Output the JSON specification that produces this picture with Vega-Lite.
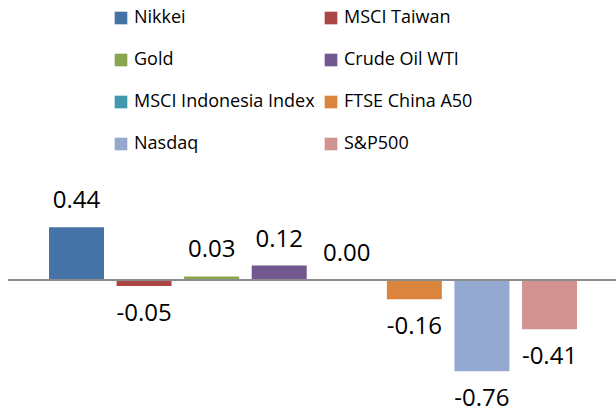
{
  "$schema": "https://vega.github.io/schema/vega-lite/v6.json",
  "width": 608,
  "height": 412,
  "padding": {"left": 8, "top": 0, "right": 0, "bottom": 0},
  "autosize": {"type": "none"},
  "config": {"view": {"stroke": null}, "font": "Open Sans"},
  "data": {"values": [
    {"series": "Nikkei", "value": 0.44, "label": "0.44"},
    {"series": "MSCI Taiwan", "value": -0.05, "label": "-0.05"},
    {"series": "Gold", "value": 0.03, "label": "0.03"},
    {"series": "Crude Oil WTI", "value": 0.12, "label": "0.12"},
    {"series": "MSCI Indonesia Index", "value": 0.0, "label": "0.00"},
    {"series": "FTSE China A50", "value": -0.16, "label": "-0.16"},
    {"series": "Nasdaq", "value": -0.76, "label": "-0.76"},
    {"series": "S&P500", "value": -0.41, "label": "-0.41"}
  ]},
  "encoding": {
    "x": {"field": "series", "type": "nominal", "axis": null,
      "sort": ["Nikkei", "MSCI Taiwan", "Gold", "Crude Oil WTI", "MSCI Indonesia Index", "FTSE China A50", "Nasdaq", "S&P500"],
      "scale": {"range": [41, 569], "paddingInner": 0.186, "paddingOuter": 0}},
    "y": {"field": "value", "type": "quantitative", "axis": null,
      "scale": {"domain": [-1.1, 2.3333], "nice": false, "zero": false}}
  },
  "layer": [
    {
      "mark": {"type": "bar"},
      "encoding": {
        "color": {"field": "series", "type": "nominal",
          "sort": ["Nikkei", "MSCI Taiwan", "Gold", "Crude Oil WTI", "MSCI Indonesia Index", "FTSE China A50", "Nasdaq", "S&P500"],
          "scale": {"domain": ["Nikkei", "MSCI Taiwan", "Gold", "Crude Oil WTI", "MSCI Indonesia Index", "FTSE China A50", "Nasdaq", "S&P500"],
            "range": ["#4572A7", "#AA4643", "#89A54E", "#71588F", "#4198AF", "#DB843D", "#93A9CF", "#D19392"]},
          "legend": {"orient": "none", "legendX": 104, "legendY": 9, "columns": 2, "direction": "horizontal", "title": null,
            "symbolType": "square", "symbolSize": 160, "symbolStrokeWidth": 0, "symbolOpacity": 1,
            "labelFont": "Open Sans", "labelFontSize": 18, "labelColor": "#000000", "labelOffset": 4,
            "labelLimit": 300, "rowPadding": 24, "columnPadding": 7, "padding": 0, "gridAlign": "all"}
        },
        "y2": {"datum": 0}
      }
    },
    {
      "mark": {"type": "rule", "color": "#8C8C8C", "strokeWidth": 2},
      "encoding": {"y": {"datum": 0}, "x": null}
    },
    {
      "transform": [{"filter": "datum.value >= 0"}],
      "mark": {"type": "text", "fontSize": 24, "color": "#000000", "baseline": "alphabetic", "dy": -19},
      "encoding": {"text": {"field": "label"}}
    },
    {
      "transform": [{"filter": "datum.value < 0"}],
      "mark": {"type": "text", "fontSize": 24, "color": "#000000", "baseline": "alphabetic", "dy": 35},
      "encoding": {"text": {"field": "label"}}
    }
  ]
}
